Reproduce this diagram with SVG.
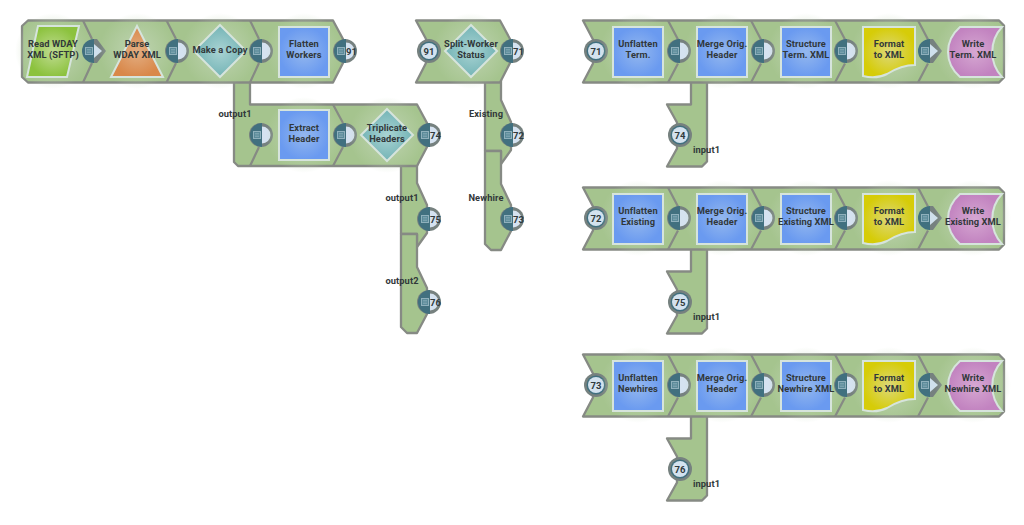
<svg xmlns="http://www.w3.org/2000/svg" width="1024" height="525" viewBox="0 0 1024 525">
<style>
.pipe{fill:#a5c48e;stroke:#868a84;stroke-width:2.3;stroke-linejoin:round}
.div{fill:none;stroke:#868a84;stroke-width:2.2}
.t{font-family:Roboto,"Open Sans",sans-serif;font-size:9.300px;font-weight:700;letter-spacing:.1px;fill:#31383a;text-anchor:middle}
.pn{font-family:Roboto,"Open Sans",sans-serif;font-size:9.500px;font-weight:700;fill:#2f3a3e;text-anchor:middle}
.ico{stroke:#d6e4dc;stroke-width:2}
.blue{fill:url(#gBlue)}.dia{fill:url(#gDia)}
</style>
<defs>
<radialGradient id="gGlow"><stop offset="0" stop-color="#bfd4b2"/><stop offset="1" stop-color="#bfd4b2" stop-opacity="0"/></radialGradient>
<radialGradient id="gBlue"><stop offset="0" stop-color="#94b8ee"/><stop offset="1" stop-color="#6a9af0"/></radialGradient>
<radialGradient id="gDia"><stop offset="0" stop-color="#a9d3d3"/><stop offset="1" stop-color="#74b4b6"/></radialGradient>
<radialGradient id="gGreen"><stop offset="0" stop-color="#c0dc92"/><stop offset="1" stop-color="#8cc23e"/></radialGradient>
<radialGradient id="gOrange"><stop offset="0" stop-color="#e3ae82"/><stop offset="1" stop-color="#d9884a"/></radialGradient>
<radialGradient id="gYellow"><stop offset="0" stop-color="#dcd87a"/><stop offset="1" stop-color="#d6cc08"/></radialGradient>
<radialGradient id="gPurple"><stop offset="0" stop-color="#d6a8d2"/><stop offset="1" stop-color="#c283c0"/></radialGradient>
<g id="doc"><rect x="-7.500" y="-3.500" width="7" height="7" fill="#5b8a99" stroke="#8fb0bc" stroke-width="1"/><path d="M-6-1.500h4M-6 0h4M-6 1.500h4" stroke="#8fb0bc" stroke-width=".6"/></g>
<g id="po"><circle r="12" fill="#76817f"/><path d="M1-12A12 12 0 0 0 1 12Z" fill="#41707f"/><path d="M1-8.500A8.500 8.500 0 0 1 1 8.500Z" fill="#d5e2f0"/><use href="#doc"/></g>
<g id="pa"><path d="M0-12H4L13 0 4 12H0Z" fill="#76817f"/><path d="M1-12A12 12 0 0 0 1 12Z" fill="#41707f"/><path d="M1-7 9 0 1 7Z" fill="#cfe0ec"/><use href="#doc"/></g>
<g id="pi"><circle r="12" fill="#76817f"/><circle r="9.500" fill="#41707f"/><circle r="8" fill="#d3e2ef"/></g>
<rect id="sq" width="50" height="50" class="ico blue"/>
<circle id="glow" r="38" fill="url(#gGlow)"/>
<path id="dm" d="M0-26 26 0 0 26-26 0Z" class="ico dia"/>
<path id="fmt" d="M0 0H52V38C40 38 32 42 24 47 16 51 8 51 0 49Z" fill="url(#gYellow)" class="ico"/>
<path id="wr" d="M13 0H55C42 14 42 36 55 50H13C-3 36-3 14 13 0Z" fill="url(#gPurple)" class="ico"/>
<g id="row">
<path class="pipe" d="M0 0H416L421 5V57L416 62H0L10 43V19Z"/>
<path class="div" d="M85 0 95 19M95 43 85 62M168 0 178 19M178 43 168 62M252 0 262 19M262 43 252 62M335 0 345 19M345 43 335 62"/>
</g>
<g id="join">
<path class="pipe" d="M108 60V84H84L94 102V128L84 146H119L124 141V60Z"/>
</g>
</defs>

<g id="connectors">
<path class="pipe" d="M401 164H417V183L427 205V233L417 247V234H401Z"/>
<path class="pipe" d="M401 234H417V267L427 288V314L417 333H407L401 327Z"/>
<path class="pipe" d="M234 80V162L238 166H417L427 147V123L417 104.500H250V80Z"/>
<path class="pipe" d="M28 20.500H333L343 39V63L333 82.500H28L22 77V26Z"/>
<path class="div" d="M83 20.500 92 39M92 63 83 82.500M166.500 20.500 176 39M176 63 166.500 82.500M250 20.500 259 39M259 63 250 82.500"/>
<path class="div" d="M333 104.500 343 123M343 147 333 166M259 147 250 166"/>
<path class="pipe" d="M485 80H501V100L511 122V150L501 164V151H485Z"/>
<path class="pipe" d="M485 151H501V184L511 205V231L501 250H491L485 244Z"/>
<path class="pipe" d="M416 20.500H500L510 39V63L500 82.500H416L426 63V39Z"/>
<use href="#join" x="583" y="20.500"/><use href="#row" x="583" y="20.500"/>
<use href="#join" x="583" y="187.500"/><use href="#row" x="583" y="187.500"/>
<use href="#join" x="583" y="354.500"/><use href="#row" x="583" y="354.500"/>
</g>

<g id="read-wday"><use href="#glow" x="53" y="51"/><path d="M38 26H79L67 77H27Z" fill="url(#gGreen)" class="ico"/><text class="t"><tspan x="53" y="47">Read WDAY</tspan><tspan x="53" y="58">XML (SFTP)</tspan></text><use href="#pa" x="93" y="51"/></g>
<g id="parse-wday"><use href="#glow" x="137" y="51"/><path d="M137 26 163 77H111Z" fill="url(#gOrange)" class="ico"/><text class="t"><tspan x="137" y="47">Parse</tspan><tspan x="137" y="58">WDAY XML</tspan></text><use href="#po" x="177" y="51"/></g>
<g id="make-copy"><use href="#glow" x="220" y="51"/><use href="#dm" x="220" y="51"/><text class="t" x="220" y="53">Make a Copy</text><use href="#po" x="261" y="51"/></g>
<g id="flatten-workers"><use href="#glow" x="304" y="51"/><use href="#sq" x="279" y="27"/><text class="t"><tspan x="304" y="47">Flatten</tspan><tspan x="304" y="58">Workers</tspan></text><use href="#po" x="345" y="51"/><text class="pn" x="351.500" y="54.500">91</text></g>
<g id="extract-header"><use href="#po" x="261" y="135"/><use href="#glow" x="304" y="135"/><use href="#sq" x="279" y="110"/><text class="t"><tspan x="304" y="131">Extract</tspan><tspan x="304" y="142">Header</tspan></text><use href="#po" x="345" y="135"/></g>
<g id="triplicate-headers"><use href="#glow" x="387" y="135"/><use href="#dm" x="387" y="135"/><text class="t"><tspan x="387" y="131">Triplicate</tspan><tspan x="387" y="142">Headers</tspan></text><use href="#po" x="429" y="135"/><text class="pn" x="435.500" y="138.500">74</text></g>
<g id="triplicate-out"><use href="#po" x="429" y="219"/><text class="pn" x="435.500" y="222.500">75</text><use href="#po" x="429" y="302"/><text class="pn" x="435.500" y="305.500">76</text><text class="t" x="402" y="201">output1</text><text class="t" x="402" y="284">output2</text></g>
<g id="split-worker"><use href="#glow" x="471" y="51"/><use href="#dm" x="471" y="51"/><use href="#pi" x="429" y="51"/><text class="pn" x="429" y="54.500">91</text><text class="t"><tspan x="471" y="47">Split-Worker</tspan><tspan x="471" y="58">Status</tspan></text><use href="#po" x="512" y="51"/><text class="pn" x="518.500" y="54.500">71</text></g>
<g id="split-out"><use href="#po" x="512" y="135"/><text class="pn" x="518.500" y="138.500">72</text><use href="#po" x="512" y="219"/><text class="pn" x="518.500" y="222.500">73</text><text class="t" x="486" y="117">Existing</text><text class="t" x="486" y="201">Newhire</text></g>
<text class="t" x="235" y="117">output1</text>

<g id="unflatten-term"><use href="#pi" x="596" y="51"/><text class="pn" x="596" y="54.500">71</text><use href="#glow" x="638" y="51"/><use href="#sq" x="613" y="27"/><text class="t"><tspan x="638" y="47">Unflatten</tspan><tspan x="638" y="58">Term.</tspan></text><use href="#po" x="679" y="51"/></g>
<g id="merge-term"><use href="#pi" x="680" y="135"/><text class="pn" x="680" y="138.500">74</text><text class="t" x="706.500" y="153">input1</text><use href="#glow" x="722" y="51"/><use href="#sq" x="697" y="27"/><text class="t"><tspan x="722" y="47">Merge Orig.</tspan><tspan x="722" y="58">Header</tspan></text><use href="#po" x="763" y="51"/></g>
<g id="structure-term"><use href="#glow" x="806" y="51"/><use href="#sq" x="781" y="27"/><text class="t"><tspan x="806" y="47">Structure</tspan><tspan x="806" y="58">Term. XML</tspan></text><use href="#po" x="846" y="51"/></g>
<g id="format-term"><use href="#glow" x="889" y="51"/><use href="#fmt" x="863" y="27"/><text class="t"><tspan x="889" y="47">Format</tspan><tspan x="889" y="58">to XML</tspan></text><use href="#pa" x="929" y="51"/></g>
<g id="write-term"><use href="#glow" x="973" y="51"/><use href="#wr" x="947" y="27"/><text class="t"><tspan x="973" y="47">Write</tspan><tspan x="973" y="58">Term. XML</tspan></text></g>

<g id="unflatten-existing"><use href="#pi" x="596" y="218"/><text class="pn" x="596" y="221.500">72</text><use href="#glow" x="638" y="218"/><use href="#sq" x="613" y="194"/><text class="t"><tspan x="638" y="214">Unflatten</tspan><tspan x="638" y="225">Existing</tspan></text><use href="#po" x="679" y="218"/></g>
<g id="merge-existing"><use href="#pi" x="680" y="302"/><text class="pn" x="680" y="305.500">75</text><text class="t" x="706.500" y="320">input1</text><use href="#glow" x="722" y="218"/><use href="#sq" x="697" y="194"/><text class="t"><tspan x="722" y="214">Merge Orig.</tspan><tspan x="722" y="225">Header</tspan></text><use href="#po" x="763" y="218"/></g>
<g id="structure-existing"><use href="#glow" x="806" y="218"/><use href="#sq" x="781" y="194"/><text class="t"><tspan x="806" y="214">Structure</tspan><tspan x="806" y="225">Existing XML</tspan></text><use href="#po" x="846" y="218"/></g>
<g id="format-existing"><use href="#glow" x="889" y="218"/><use href="#fmt" x="863" y="194"/><text class="t"><tspan x="889" y="214">Format</tspan><tspan x="889" y="225">to XML</tspan></text><use href="#pa" x="929" y="218"/></g>
<g id="write-existing"><use href="#glow" x="973" y="218"/><use href="#wr" x="947" y="194"/><text class="t"><tspan x="973" y="214">Write</tspan><tspan x="973" y="225">Existing XML</tspan></text></g>

<g id="unflatten-newhires"><use href="#pi" x="596" y="385"/><text class="pn" x="596" y="388.500">73</text><use href="#glow" x="638" y="385"/><use href="#sq" x="613" y="361"/><text class="t"><tspan x="638" y="381">Unflatten</tspan><tspan x="638" y="392">Newhires</tspan></text><use href="#po" x="679" y="385"/></g>
<g id="merge-newhire"><use href="#pi" x="680" y="469"/><text class="pn" x="680" y="472.500">76</text><text class="t" x="706.500" y="487">input1</text><use href="#glow" x="722" y="385"/><use href="#sq" x="697" y="361"/><text class="t"><tspan x="722" y="381">Merge Orig.</tspan><tspan x="722" y="392">Header</tspan></text><use href="#po" x="763" y="385"/></g>
<g id="structure-newhire"><use href="#glow" x="806" y="385"/><use href="#sq" x="781" y="361"/><text class="t"><tspan x="806" y="381">Structure</tspan><tspan x="806" y="392">Newhire XML</tspan></text><use href="#po" x="846" y="385"/></g>
<g id="format-newhire"><use href="#glow" x="889" y="385"/><use href="#fmt" x="863" y="361"/><text class="t"><tspan x="889" y="381">Format</tspan><tspan x="889" y="392">to XML</tspan></text><use href="#pa" x="929" y="385"/></g>
<g id="write-newhire"><use href="#glow" x="973" y="385"/><use href="#wr" x="947" y="361"/><text class="t"><tspan x="973" y="381">Write</tspan><tspan x="973" y="392">Newhire XML</tspan></text></g>
</svg>
